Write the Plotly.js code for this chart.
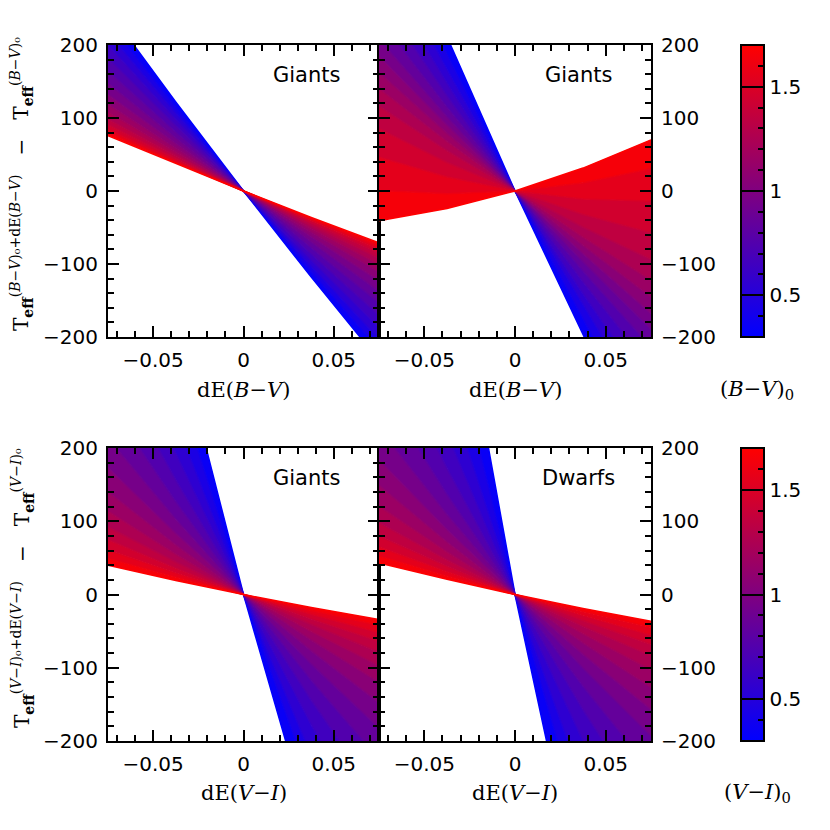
<!DOCTYPE html>
<html>
<head>
<meta charset="utf-8">
<script src="https://cdn.plot.ly/plotly-3.0.1.min.js"></script>
<style>
  html, body { margin: 0; padding: 0; background: #fff; }
  #plot { width: 830px; height: 830px; }
</style>
</head>
<body>
<div id="plot"></div>
<script>
// colour-excess offsets (x) where each curve is sampled
var dE = [-0.075, -0.0375, 0, 0.0375, 0.075];

// intrinsic colour of each curve, (B-V)0 or (V-I)0
var colour0 = [0.3, 0.4, 0.5, 0.6, 0.7, 0.8, 0.9, 1.0, 1.1, 1.2, 1.3, 1.4, 1.5, 1.6, 1.7];

// Teff change (K) at the dE points, one row per colour0 value
var giantsBV1 = [
  [248.0, 122.0, 0, -118.0, -232.0],
  [232.5, 114.4, 0, -110.6, -217.5],
  [217.0, 106.8, 0, -103.3, -203.0],
  [200.0, 98.4, 0, -95.1, -187.0],
  [182.3, 89.6, 0, -86.6, -170.3],
  [164.5, 80.9, 0, -78.1, -153.5],
  [147.5, 72.5, 0, -70.0, -137.5],
  [132.0, 64.9, 0, -62.6, -123.0],
  [118.8, 58.4, 0, -56.4, -110.8],
  [107.8, 53.0, 0, -51.2, -100.8],
  [98.3, 48.4, 0, -46.9, -92.3],
  [90.8, 44.6, 0, -43.1, -84.8],
  [84.3, 41.5, 0, -40.3, -79.3],
  [79.8, 39.2, 0, -38.0, -74.8],
  [75.9, 37.4, 0, -36.2, -71.1]
];

var giantsBV2 = [
  [432.2, 211.2, 0, -201.4, -392.8],
  [384.4, 188.0, 0, -179.6, -350.6],
  [341.2, 166.8, 0, -159.4, -311.4],
  [302.3, 147.8, 0, -141.0, -275.3],
  [267.1, 130.5, 0, -124.5, -242.9],
  [235.7, 115.2, 0, -109.8, -214.3],
  [208.1, 101.7, 0, -97.1, -189.5],
  [184.7, 90.2, 0, -86.0, -167.8],
  [162.2, 79.0, 0, -74.8, -145.3],
  [140.3, 67.8, 0, -63.4, -122.3],
  [116.3, 55.3, 0, -49.7, -93.8],
  [85.3, 39.1, 0, -32.1, -57.2],
  [46.3, 19.1, 0, -10.9, -13.7],
  [0.8, -3.6, 0, 11.4, 30.8],
  [-40.9, -24.1, 0, 31.4, 70.1]
];

var giantsVI = [
  [752.4, 362.5, 0, -335.0, -642.6],
  [609.9, 293.8, 0, -271.6, -520.9],
  [494.4, 238.2, 0, -220.2, -422.2],
  [400.8, 193.1, 0, -178.5, -342.4],
  [324.9, 156.5, 0, -144.7, -277.5],
  [263.3, 126.9, 0, -117.3, -224.9],
  [213.5, 102.9, 0, -95.1, -182.3],
  [173.0, 83.4, 0, -77.0, -147.8],
  [140.3, 67.6, 0, -62.4, -119.9],
  [113.8, 54.8, 0, -50.6, -97.2],
  [92.1, 44.4, 0, -41.0, -78.7],
  [74.8, 36.0, 0, -33.3, -63.8],
  [60.6, 29.2, 0, -27.0, -51.8],
  [49.1, 23.7, 0, -21.9, -41.9],
  [39.8, 19.2, 0, -17.7, -34.0]
];

var dwarfsVI = [
  [1080.6, 512.9, 0, -458.3, -862.0],
  [798.3, 379.6, 0, -340.4, -641.7],
  [598.8, 285.7, 0, -258.1, -488.7],
  [459.4, 219.9, 0, -200.2, -380.6],
  [359.1, 172.3, 0, -157.7, -300.9],
  [284.6, 136.8, 0, -125.7, -240.4],
  [226.9, 109.2, 0, -100.8, -193.1],
  [183.7, 88.5, 0, -81.8, -156.9],
  [148.9, 71.7, 0, -66.3, -127.1],
  [120.6, 58.1, 0, -53.7, -103.0],
  [97.9, 47.2, 0, -43.6, -83.6],
  [79.7, 38.4, 0, -35.5, -68.1],
  [64.7, 31.2, 0, -28.8, -55.3],
  [52.6, 25.4, 0, -23.4, -44.9],
  [42.9, 20.7, 0, -19.1, -36.6]
];

var panelLabels = ['Giants', 'Giants', 'Giants', 'Dwarfs'];
var cbTickVals = [0.4, 0.5, 0.6, 0.7, 0.8, 0.9, 1.0, 1.1, 1.2, 1.3, 1.4, 1.5, 1.6, 1.7];
var cbMajor = [0.5, 1, 1.5];
var cbMajorText = ['0.5', '1', '1.5'];

var cMin = 0.3, cMax = 1.7;
var scale = [[0, 'rgb(0,0,255)'], [1, 'rgb(255,0,0)']];
var clearScale = [[0, 'rgba(0,0,0,0)'], [1, 'rgba(0,0,0,0)']];

function colourAt(c) {
  var f = (c - cMin) / (cMax - cMin);
  return 'rgb(' + Math.round(255 * f) + ',0,' + Math.round(255 * (1 - f)) + ')';
}

// one trace per colour, each filled down to the previous one
function fanTraces(rows, xa, ya) {
  return rows.map(function (row, i) {
    var t = {
      type: 'scatter', mode: 'lines', x: dE, y: row, xaxis: xa, yaxis: ya,
      line: {color: colourAt(colour0[i]), width: 1.5},
      hoverinfo: 'skip', showlegend: false
    };
    if (i > 0) {
      t.fill = 'tonexty';
      t.fillcolor = colourAt((colour0[i - 1] + colour0[i]) / 2);
    }
    return t;
  });
}

// dummy trace that only carries a colour bar; the "major" one is see-through
// and sits on top, adding the long ticks and the labels
function scaleTrace(xa, ya, yTop, len, major) {
  return {
    type: 'scatter', mode: 'markers', x: [null], y: [null], xaxis: xa, yaxis: ya,
    hoverinfo: 'skip', showlegend: false,
    marker: {
      color: [cMin], cmin: cMin, cmax: cMax, colorscale: major ? clearScale : scale, showscale: true,
      colorbar: {
        x: 741 / 830, xanchor: 'left', y: yTop, yanchor: 'top',
        len: len, lenmode: 'fraction', thickness: 23, thicknessmode: 'pixels',
        xpad: 0, ypad: 0, outlinewidth: 2, outlinecolor: 'black',
        tickvals: major ? cbMajor : cbTickVals,
        ticktext: major ? cbMajorText : cbTickVals.map(function () { return ''; }),
        ticks: 'inside', ticklen: major ? 23 : 7, tickwidth: 2, tickcolor: 'black',
        ticklabelstandoff: 12,
        tickfont: {family: 'DejaVu Sans', size: 20, color: 'black'},
        title: {text: ''}
      }
    }
  };
}

var data = []
  .concat(fanTraces(giantsBV1, 'x', 'y'))
  .concat(fanTraces(giantsBV2, 'x2', 'y2'))
  .concat(fanTraces(giantsVI, 'x3', 'y3'))
  .concat(fanTraces(dwarfsVI, 'x4', 'y4'))
  .concat([
    scaleTrace('x2', 'y2', 1 - 45 / 830, 292 / 830, false),
    scaleTrace('x2', 'y2', 1 - 45 / 830, 292 / 830, true),
    scaleTrace('x4', 'y4', 1 - 448 / 830, 293 / 830, false),
    scaleTrace('x4', 'y4', 1 - 448 / 830, 293 / 830, true)
  ]);

function axisStyle(extra) {
  var a = {
    showline: true, linecolor: 'black', linewidth: 2, mirror: 'ticks',
    ticks: 'inside', ticklen: 11, tickwidth: 2, tickcolor: 'black',
    showgrid: false, zeroline: false, fixedrange: true, automargin: false,
    tickfont: {family: 'DejaVu Sans', size: 20, color: 'black'},
    ticklabelstandoff: 4
  };
  for (var k in extra) a[k] = extra[k];
  return a;
}

function xAxis(domain, anchor) {
  return axisStyle({
    domain: domain, anchor: anchor, range: [-0.075, 0.075], tick0: 0, dtick: 0.05,
    minor: {ticks: 'inside', ticklen: 6, tickwidth: 2, tickcolor: 'black', dtick: 0.01, tick0: 0}
  });
}

function yAxis(domain, anchor, side) {
  return axisStyle({
    domain: domain, anchor: anchor, side: side, range: [-200, 200], tick0: 0, dtick: 100,
    minor: {ticks: 'inside', ticklen: 6, tickwidth: 2, tickcolor: 'black', dtick: 20, tick0: 0}
  });
}

var xLeft = [108 / 830, 379 / 830];
var xRight = [379 / 830, 651 / 830];
var yTopRow = [1 - 337 / 830, 1 - 45 / 830];
var yBotRow = [1 - 741 / 830, 1 - 448 / 830];

var titleFont = {family: 'DejaVu Serif', size: 21, color: 'black'};
var labelFont = {family: 'DejaVu Sans', size: 21, color: 'black'};

var annotations = [];
var refs = [['x', 'y'], ['x2', 'y2'], ['x3', 'y3'], ['x4', 'y4']];
refs.forEach(function (r, i) {
  annotations.push({
    xref: r[0] + ' domain', yref: r[1] + ' domain', x: 0.733, y: 0.897,
    text: panelLabels[i], showarrow: false, font: labelFont,
    xanchor: 'center', yanchor: 'middle'
  });
});

var xTitleBV = 'dE(<i>B</i>−<i>V</i>)';
var xTitleVI = 'dE(<i>V</i>−<i>I</i>)';
[['x', xTitleBV, 390], ['x2', xTitleBV, 390], ['x3', xTitleVI, 793], ['x4', xTitleVI, 793]].forEach(function (t) {
  annotations.push({
    xref: t[0], yref: 'paper', x: 0, y: 1 - t[2] / 830, text: t[1], showarrow: false,
    font: titleFont, xanchor: 'center', yanchor: 'middle'
  });
});

// colour-bar titles under each bar
[['(<i>B</i>−<i>V</i>)<sub>0</sub>', 390], ['(<i>V</i>−<i>I</i>)<sub>0</sub>', 793]].forEach(function (t) {
  annotations.push({
    xref: 'paper', yref: 'paper', x: 757 / 830, y: 1 - t[1] / 830, text: t[0], showarrow: false,
    font: titleFont, xanchor: 'center', yanchor: 'middle'
  });
});

var yTitleBV = 'T<sub><b>eff</b></sub><sup>(<i>B</i>−<i>V</i>)₀+dE(<i>B</i>−<i>V</i>)</sup>   −   T<sub><b>eff</b></sub><sup>(<i>B</i>−<i>V</i>)₀</sup>';
var yTitleVI = 'T<sub><b>eff</b></sub><sup>(<i>V</i>−<i>I</i>)₀+dE(<i>V</i>−<i>I</i>)</sup>   −   T<sub><b>eff</b></sub><sup>(<i>V</i>−<i>I</i>)₀</sup>';
annotations.push({
  xref: 'paper', yref: 'paper', x: 22 / 830, y: 1 - 184 / 830, text: yTitleBV, textangle: -90,
  showarrow: false, font: {family: 'DejaVu Serif', size: 20, color: 'black'}, xanchor: 'center', yanchor: 'middle'
});
annotations.push({
  xref: 'paper', yref: 'paper', x: 22 / 830, y: 1 - 588 / 830, text: yTitleVI, textangle: -90,
  showarrow: false, font: {family: 'DejaVu Serif', size: 20, color: 'black'}, xanchor: 'center', yanchor: 'middle'
});

var layout = {
  width: 830, height: 830,
  margin: {l: 0, r: 0, t: 0, b: 0},
  paper_bgcolor: 'white', plot_bgcolor: 'white',
  showlegend: false, hovermode: false,
  xaxis: xAxis(xLeft, 'y'),
  yaxis: yAxis(yTopRow, 'x', 'left'),
  xaxis2: xAxis(xRight, 'y2'),
  yaxis2: yAxis(yTopRow, 'x2', 'right'),
  xaxis3: xAxis(xLeft, 'y3'),
  yaxis3: yAxis(yBotRow, 'x3', 'left'),
  xaxis4: xAxis(xRight, 'y4'),
  yaxis4: yAxis(yBotRow, 'x4', 'right'),
  annotations: annotations
};

var config = {displayModeBar: false, staticPlot: true};

Plotly.newPlot('plot', data, layout, config);
</script>
</body>
</html>
